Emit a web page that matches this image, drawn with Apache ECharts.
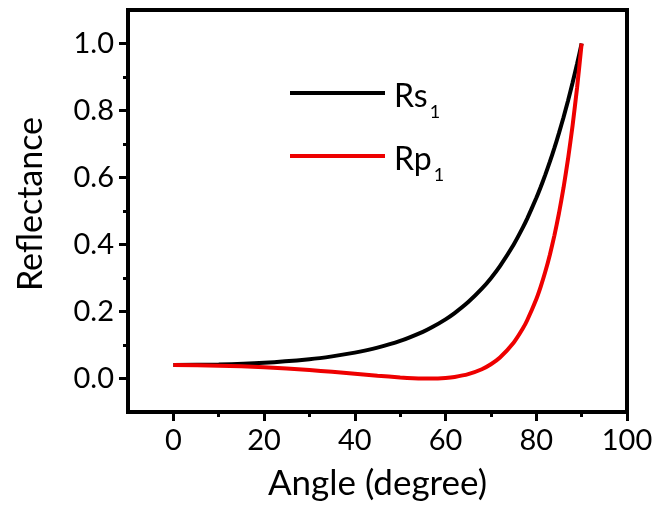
<!DOCTYPE html>
<html><head><meta charset="utf-8">
<script src="https://cdn.jsdelivr.net/npm/echarts@6/dist/echarts.min.js"></script>
<style>html,body{margin:0;padding:0;background:#fff}#c{width:659px;height:506px}</style>
</head><body><div id="c"></div>
<script>
const angles = [0, 10, 20, 30, 35, 40, 45, 50, 55, 57, 60, 62, 65, 68, 70, 72, 75, 77, 78, 80, 81, 82, 83, 84, 85, 86, 87, 88, 89, 90];
const rs1 = [0.040, 0.0417, 0.0471, 0.0578, 0.0661, 0.0772, 0.0920, 0.1120, 0.1393, 0.1528, 0.1766, 0.1952, 0.2281, 0.2681, 0.2996, 0.3356, 0.3994, 0.4496, 0.4773, 0.5386, 0.5724, 0.6086, 0.6472, 0.6884, 0.7323, 0.7793, 0.8293, 0.8826, 0.9395, 1.0];
const rp1 = [0.040, 0.0384, 0.0335, 0.0252, 0.0200, 0.0143, 0.0085, 0.0033, 0.0002, 0.0001, 0.0018, 0.0047, 0.0130, 0.0277, 0.0425, 0.0627, 0.1068, 0.1484, 0.1739, 0.2368, 0.2753, 0.3193, 0.3696, 0.4273, 0.4933, 0.5688, 0.6555, 0.7548, 0.8689, 1.0];
const xMajor = [0, 20, 40, 60, 80, 100];
const xMinor = [10, 30, 50, 70, 90];
const yMajor = [0, 0.2, 0.4, 0.6, 0.8, 1.0];
const yMinor = [0.1, 0.3, 0.5, 0.7, 0.9];
const seriesNames = ['Rs1', 'Rp1'];
const colors = ['#000000', '#ee0000'];

const FONT = 'Lato';
const chart = echarts.init(document.getElementById('c'));
const axisLine = { show: true, onZero: false, lineStyle: { color: '#000', width: 4 } };
const tickStyle = { width: 3, color: '#000' };
const legendCommon = {
  orient: 'vertical', left: 290, padding: 0, itemWidth: 95, itemHeight: 4, icon: 'rect',
  formatter: n => '{a|' + n.slice(0, 2) + '}{b|' + n.slice(2) + '}',
  textStyle: {
    rich: {
      a: { fontFamily: FONT, fontSize: 32, color: '#000', lineHeight: 36, verticalAlign: 'middle', padding: [8, 0, 0, 4] },
      b: { fontFamily: FONT, fontSize: 18, color: '#000', lineHeight: 36, verticalAlign: 'middle', padding: [38, 0, 0, 2] }
    }
  }
};
chart.setOption({
  animation: false,
  grid: { left: 128, right: 32, top: 10, bottom: 94, show: true, borderColor: '#000', borderWidth: 4 },
  legend: [
    Object.assign({}, legendCommon, { top: 65, data: [seriesNames[0]] }),
    Object.assign({}, legendCommon, { top: 128, data: [seriesNames[1]] })
  ],
  xAxis: [{
    type: 'value', min: -10, max: 100, position: 'bottom',
    name: 'Angle (degree)', nameLocation: 'middle', nameGap: 54,
    nameTextStyle: { fontFamily: FONT, fontSize: 35, color: '#000' },
    axisLine: axisLine,
    axisTick: { show: true, inside: false, length: 9, lineStyle: tickStyle, customValues: xMajor },
    axisLabel: { customValues: xMajor, fontFamily: FONT, fontSize: 29, color: '#000', margin: 14 },
    splitLine: { show: false }
  }, {
    type: 'value', min: -10, max: 100, position: 'bottom', gridIndex: 0,
    axisLine: { show: false, onZero: false },
    axisTick: { show: true, inside: false, length: 5, lineStyle: tickStyle, customValues: xMinor },
    axisLabel: { show: false }, splitLine: { show: false }
  }],
  yAxis: [{
    type: 'value', min: -0.1, max: 1.1, position: 'left',
    name: 'Reflectance', nameLocation: 'middle', nameGap: 80,
    nameTextStyle: { fontFamily: FONT, fontSize: 34, color: '#000', padding: [0, 0, 0, 14] },
    axisLine: axisLine,
    axisTick: { show: true, inside: false, length: 9, lineStyle: tickStyle, customValues: yMajor },
    axisLabel: { customValues: yMajor, formatter: v => v.toFixed(1), fontFamily: FONT, fontSize: 29, color: '#000', margin: 14 },
    splitLine: { show: false }
  }, {
    type: 'value', min: -0.1, max: 1.1, position: 'left',
    axisLine: { show: false, onZero: false },
    axisTick: { show: true, inside: false, length: 5, lineStyle: tickStyle, customValues: yMinor },
    axisLabel: { show: false }, splitLine: { show: false }
  }],
  series: [
    { name: seriesNames[0], type: 'line', smooth: 0.2, symbol: 'none', data: angles.map((a, i) => [a, rs1[i]]),
      lineStyle: { color: colors[0], width: 4 }, itemStyle: { color: colors[0] } },
    { name: seriesNames[1], type: 'line', smooth: 0.2, symbol: 'none', data: angles.map((a, i) => [a, rp1[i]]),
      lineStyle: { color: colors[1], width: 4 }, itemStyle: { color: colors[1] } }
  ]
});
</script></body></html>
